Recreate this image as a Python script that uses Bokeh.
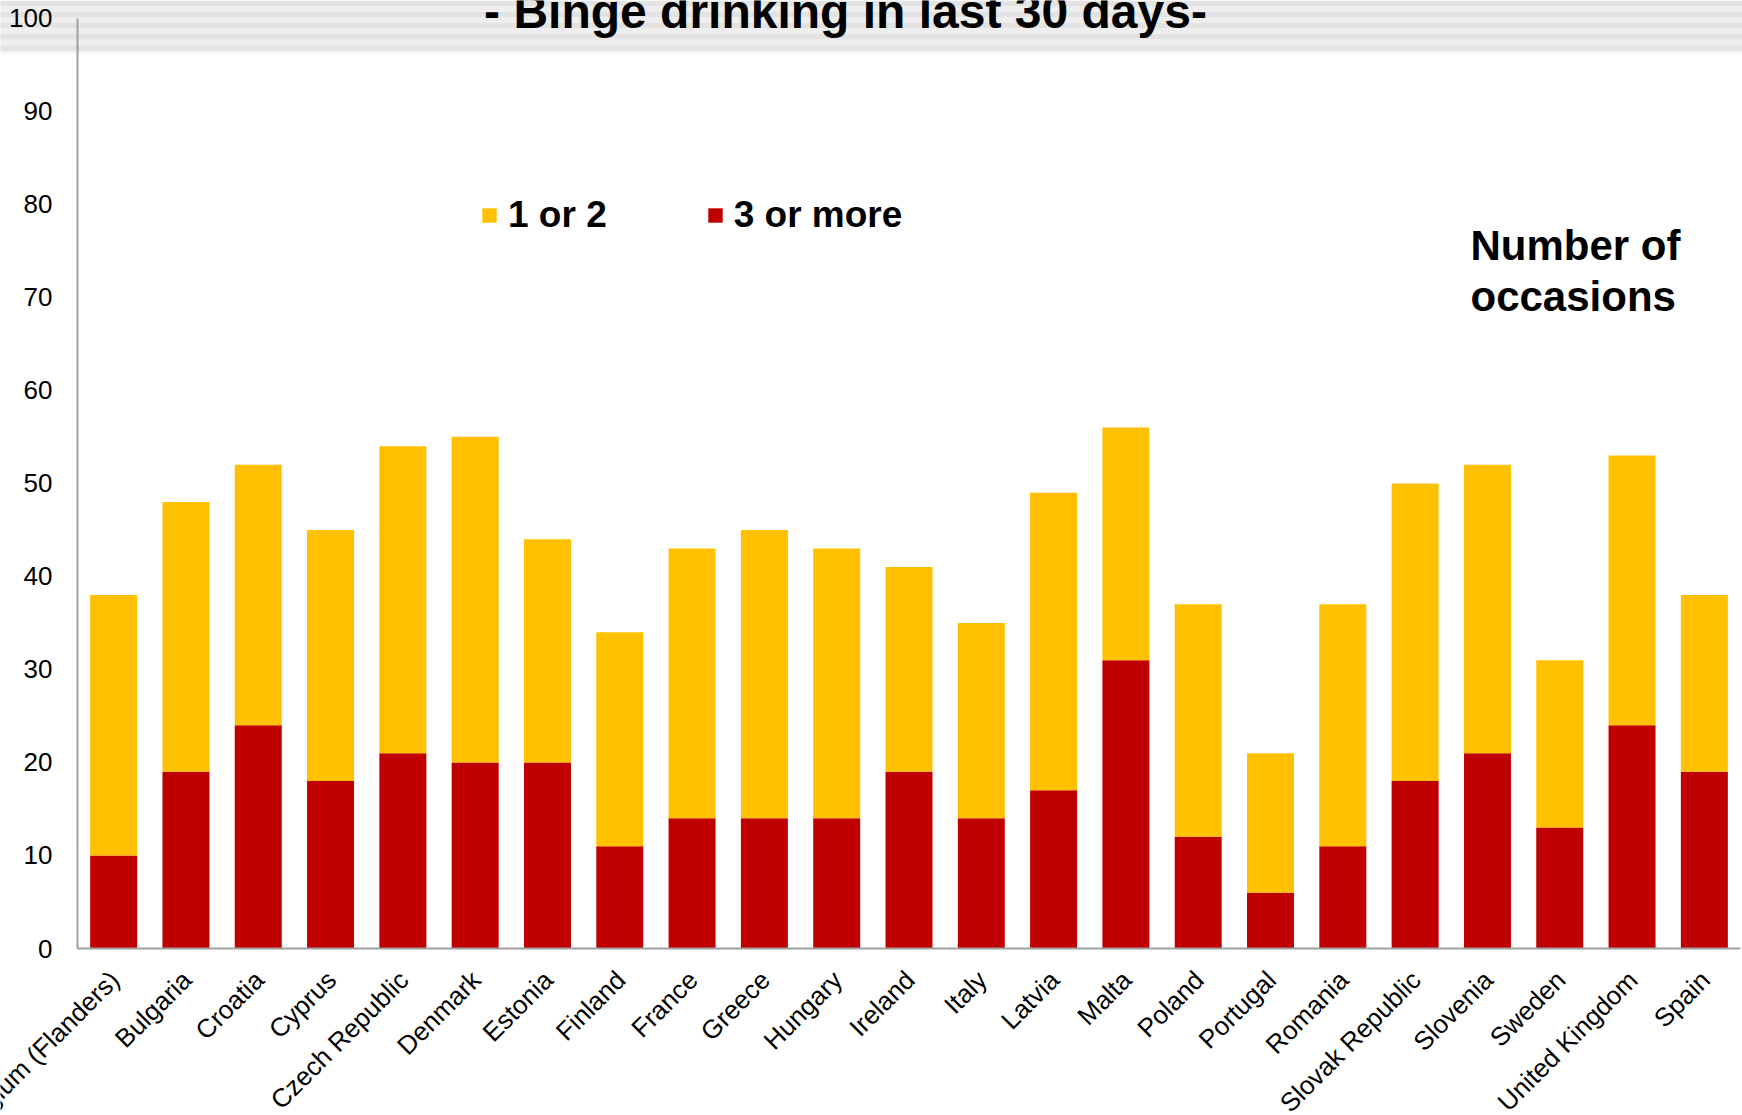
import math
from bokeh.plotting import figure
from bokeh.models import (Range1d, Legend, LegendItem, Label, LabelSet,
                          BoxAnnotation, FixedTicker, ColumnDataSource)
from bokeh.core.properties import value
from bokeh.embed import file_html
from bokeh.resources import INLINE

# ---------------- data ----------------
countries = ["Belgium (Flanders)", "Bulgaria", "Croatia", "Cyprus", "Czech Republic",
             "Denmark", "Estonia", "Finland", "France", "Greece", "Hungary", "Ireland",
             "Italy", "Latvia", "Malta", "Poland", "Portugal", "Romania",
             "Slovak Republic", "Slovenia", "Sweden", "United Kingdom", "Spain"]
three_or_more = [10, 19, 24, 18, 21, 20, 20, 11, 14, 14, 14, 19, 14, 17, 31, 12, 6, 11, 18, 21, 13, 24, 19]
one_or_two = [28, 29, 28, 27, 33, 35, 24, 23, 29, 31, 29, 22, 21, 32, 25, 25, 15, 26, 32, 31, 18, 29, 19]
series_names = ["3 or more", "1 or 2"]
series_colors = ["#C00000", "#FFC000"]
y_ticks = [0, 10, 20, 30, 40, 50, 60, 70, 80, 90, 100]
title_text = "- Binge drinking in last 30 days-"
note_lines = ["Number of", "occasions"]

FONT = "Liberation Sans"
N = len(countries)

# category slot centres on a numeric axis (slot i spans i..i+1)
xpos = [i + 0.5 for i in range(N)]
src = ColumnDataSource(dict(country=countries, x=xpos, base=[0] * N,
                            **{"3 or more": three_or_more, "1 or 2": one_or_two}))

W, H = 1742, 1115
AX_L, AX_B = 77, 948            # pixel position of the axes inside the canvas
step = (W - AX_L - 2) / N       # pixels per category slot
Y_TOP = 101.91
px_per_unit = AX_B / Y_TOP

p = figure(x_range=Range1d(-AX_L / step, (W - AX_L) / step),
           y_range=Range1d(-(H - AX_B) / px_per_unit, Y_TOP),
           frame_width=W, frame_height=H,
           min_border_left=0, min_border_right=0, min_border_top=0, min_border_bottom=0,
           output_backend="svg", toolbar_location=None)
p.outline_line_color = None
p.background_fill_color = "white"
p.border_fill_color = "white"
p.xgrid.visible = False
p.ygrid.visible = False


def px_to_y(px):
    return (AX_B - px) / px_per_unit


# striped band at top (decoration)
band_cols = ["#e3e3e3", "#eeeeee"]
for k in range(9):
    top_px = k * 5.6
    p.add_layout(BoxAnnotation(left=-AX_L / step - 1, right=N + 2,
                               top=px_to_y(top_px), bottom=px_to_y(top_px + 5.6),
                               fill_color=band_cols[k % 2], fill_alpha=1.0,
                               line_color=None, level="underlay"))
p.add_layout(BoxAnnotation(left=-AX_L / step - 1, right=N + 2,
                           top=px_to_y(50.4), bottom=px_to_y(53),
                           fill_color="#f5f5f5", fill_alpha=1.0,
                           line_color=None, level="underlay"))

rs = p.vbar_stack(series_names, x="x", width=0.65, color=series_colors,
                  line_color=None, source=src)

# axes drawn inside the frame
p.yaxis.fixed_location = 0
p.xaxis.fixed_location = 0
p.yaxis.ticker = FixedTicker(ticks=y_ticks)
p.yaxis.bounds = (0, 100)
p.xaxis.ticker = FixedTicker(ticks=[])
p.xaxis.bounds = (0, N)
for ax in (p.xaxis[0], p.yaxis[0]):
    ax.axis_line_color = "#a0a0a0"
    ax.axis_line_width = 2
    ax.major_tick_line_color = None
    ax.minor_tick_line_color = None
    ax.major_label_text_font = FONT
    ax.major_label_text_color = "black"
p.yaxis.major_label_text_font_size = "26px"
p.yaxis.major_label_standoff = 19
p.xaxis.major_label_text_font_size = "0px"

# category labels, rotated 45 degrees
p.add_layout(LabelSet(x="x", y="base", text="country", source=src,
                      angle=math.pi / 4, text_align="right", text_baseline="middle",
                      x_offset=1, y_offset=-27,
                      text_font=value(FONT), text_font_size=value("26px"),
                      text_color="black"))

# legend
legend = Legend(items=[LegendItem(label="1 or 2", renderers=[rs[1]]),
                       LegendItem(label="3 or more", renderers=[rs[0]])],
                orientation="horizontal", location=(403 + AX_L, 712 + (H - AX_B)),
                glyph_width=18, glyph_height=18, label_standoff=10, spacing=99,
                padding=0, margin=0, border_line_color=None, background_fill_alpha=0,
                label_text_font=FONT, label_text_font_size="37px",
                label_text_font_style="bold", label_text_color="black")
p.add_layout(legend, "center")

# title
p.add_layout(Label(x=(845 - AX_L) / step, y=px_to_y(11), text=title_text,
                   text_align="center", text_baseline="alphabetic",
                   text_font=FONT, text_font_size="48px", text_font_style="bold",
                   text_color="black"))

# note
for i, line in enumerate(note_lines):
    p.add_layout(Label(x=(1470 - AX_L) / step, y=px_to_y(245 + i * 51), text=line,
                       text_align="left", text_baseline="alphabetic",
                       text_font=FONT, text_font_size="42px", text_font_style="bold",
                       text_color="black"))

open("out.html", "w").write(file_html(p, INLINE))
